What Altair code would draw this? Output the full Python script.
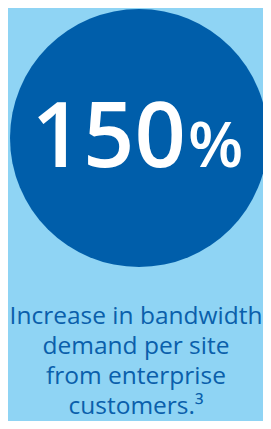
import altair as alt
import pandas as pd

# Content
stat_value = ["150"]
stat_unit = ["%"]
caption_lines = ["Increase in bandwidth", "demand per site", "from enterprise", "customers.³"]
line_index = [0, 1, 2, 3]

BG = "#8FD4F4"
CIRCLE = "#005EAA"
TEXT_DARK = "#0A5FAB"
OFF = 8  # page margin
W, H = 255, 413

base = alt.Chart(pd.DataFrame({"k": [0]}))

circle = base.mark_circle(color=CIRCLE, opacity=1, strokeWidth=0).encode(
    x=alt.value(139 - OFF), y=alt.value(138 - OFF), size=alt.value(258 * 258)
)

num = alt.Chart(pd.DataFrame({"t": stat_value})).mark_text(
    font="Open Sans", fontWeight=600, fontSize=90, color="white", align="right", baseline="alphabetic"
).encode(text="t:N", x=alt.value(186 - OFF), y=alt.value(167 - OFF))

unit = alt.Chart(pd.DataFrame({"t": stat_unit})).mark_text(
    font="Open Sans", fontWeight=600, fontSize=64, color="white", align="left", baseline="alphabetic"
).encode(text="t:N", x=alt.value(188 - OFF), y=alt.value(167 - OFF))

cap_df = pd.DataFrame({"t": caption_lines, "i": line_index})
caption = alt.Chart(cap_df).mark_text(
    font="Open Sans", fontSize=24.5, color=TEXT_DARK, align="center", baseline="alphabetic"
).encode(
    text="t:N",
    x=alt.value(136 - OFF),
    y=alt.Y("i:Q", axis=None, scale=alt.Scale(domain=[0, 3], range=[324 - OFF, 414 - OFF])),
)

chart = alt.layer(circle, num, unit, caption).properties(
    width=W, height=H, background=BG, padding=0,
    autosize=alt.AutoSizeParams(type="fit", contains="padding"),
).configure_view(strokeWidth=0)

chart.save("out.html", embed_options={"renderer": "svg", "actions": False})
